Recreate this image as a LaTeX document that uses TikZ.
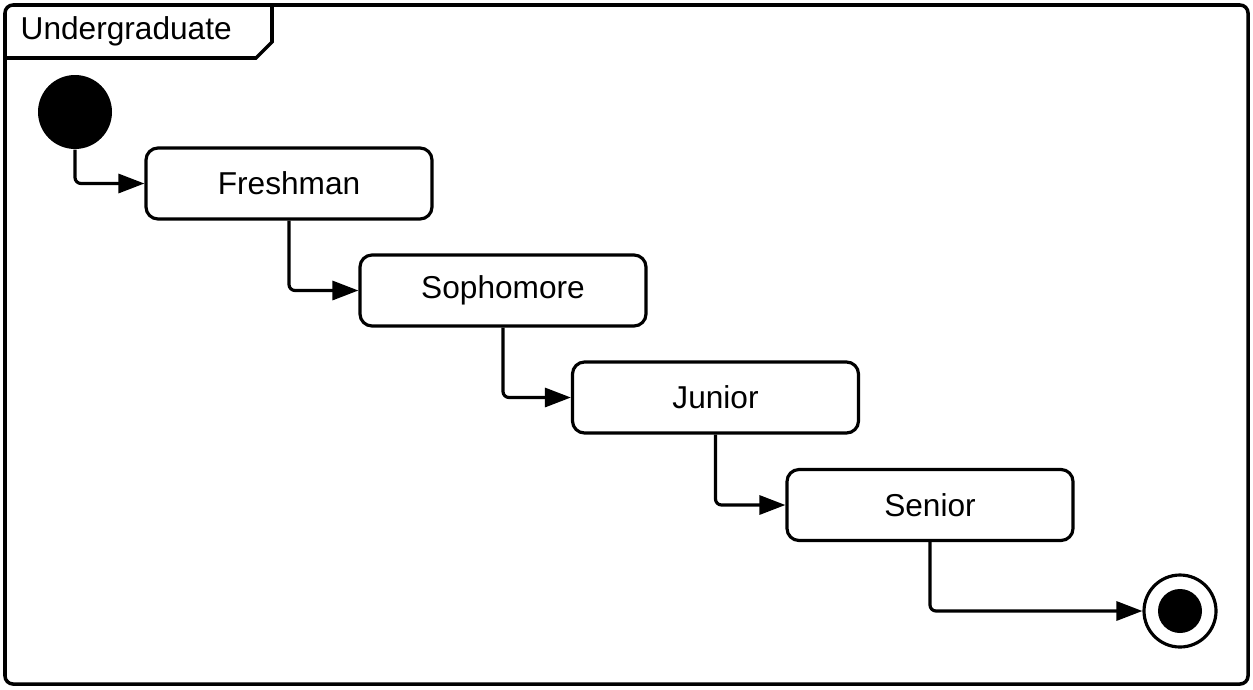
\documentclass[tikz,border=0pt]{standalone}
\usepackage{fontspec}
\setmainfont{Liberation Sans}
\usetikzlibrary{arrows.meta}

\begin{document}
\begin{tikzpicture}[
    state/.style={draw, rounded corners=0.12cm, minimum width=2.86cm, minimum height=0.71cm, line width=0.9pt, font=\fontsize{9}{11}\selectfont},
    trans/.style={line width=0.9pt, rounded corners=0.06cm, -{Triangle[length=2.6mm, width=1.9mm]}}
]
\useasboundingbox (0,0) rectangle (12.53,6.89);

% Frame and tab
\draw[line width=1pt, rounded corners=0.08cm] (0.05,0.05) rectangle (12.48,6.84);
\draw[line width=1pt] (0.05,6.31) -- (2.56,6.31) -- (2.72,6.47) -- (2.72,6.84);
\node[anchor=west, inner sep=0pt, font=\fontsize{9}{11}\selectfont] (title) at (0.20,6.58) {Undergraduate};

% Pseudo states
\node[circle, fill=black, minimum size=0.74cm, inner sep=0pt] (start) at (0.75,5.77) {};
\node[circle, draw, line width=0.9pt, minimum size=0.72cm, inner sep=0pt] (stop) at (11.80,0.78) {};
\fill (stop.center) circle (0.22);

% States
\node[state] (fresh) at (2.89,5.055) {Freshman};
\node[state] (soph) at (5.03,3.985) {Sophomore};
\node[state] (junior) at (7.155,2.915) {Junior};
\node[state] (senior) at (9.30,1.84) {Senior};

% Transitions
\draw[trans] (start.south) |- (fresh.west);
\draw[trans] (fresh.south) |- (soph.west);
\draw[trans] (soph.south) |- (junior.west);
\draw[trans] (junior.south) |- (senior.west);
\draw[trans] (senior.south) |- (stop.west);
\end{tikzpicture}
\end{document}
